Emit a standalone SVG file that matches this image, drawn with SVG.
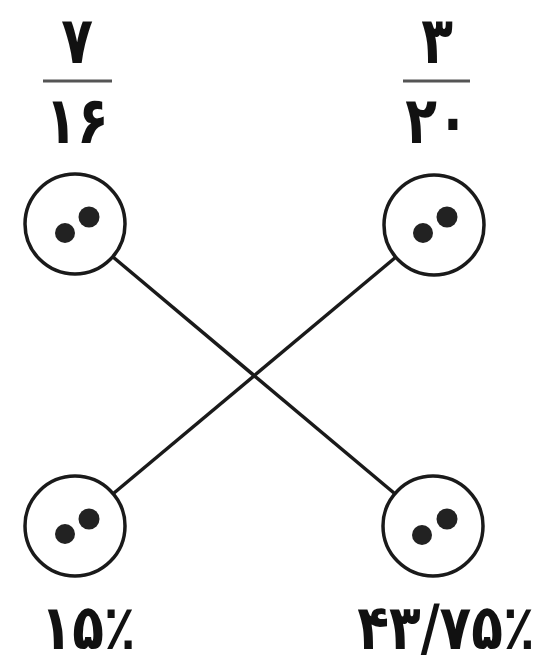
<svg xmlns="http://www.w3.org/2000/svg" width="539" height="664" viewBox="0 0 539 664">
<style>
.num{font-family:"DejaVu Sans","Noto Sans",sans-serif;font-weight:bold;font-size:52px;fill:#111;text-anchor:middle}
.bar{stroke:#555;stroke-width:3}
.ring{fill:none;stroke:#1a1a1a;stroke-width:3.5}
.dot{fill:#222}
.conn{stroke:#1a1a1a;stroke-width:3.5;fill:none}
</style>
<rect width="539" height="664" fill="#fff"/>
<g id="connectors">
<line class="conn" x1="113" y1="257" x2="394" y2="493"/>
<line class="conn" x1="396" y1="257" x2="114" y2="493"/>
</g>
<g id="frac-left">
<text class="num" transform="translate(77,63) scale(1,1.26)">۷</text>
<line class="bar" x1="43" y1="81" x2="112" y2="81"/>
<text class="num" transform="translate(77,143) scale(1,1.26)">۱۶</text>
</g>
<g id="frac-right">
<text class="num" transform="translate(437,63) scale(1,1.26)">۳</text>
<line class="bar" x1="403" y1="81" x2="470" y2="81"/>
<text class="num" transform="translate(437,143) scale(1,1.26)">۲۰</text>
</g>
<g id="node-tl">
<circle class="ring" cx="75" cy="224" r="50"/>
<circle class="dot" cx="65" cy="233" r="10"/>
<circle class="dot" cx="89" cy="217" r="10.5"/>
</g>
<g id="node-tr">
<circle class="ring" cx="434" cy="225" r="50"/>
<circle class="dot" cx="423" cy="233" r="10"/>
<circle class="dot" cx="447" cy="217" r="10.5"/>
</g>
<g id="node-bl">
<circle class="ring" cx="75" cy="526" r="50"/>
<circle class="dot" cx="65" cy="534" r="10"/>
<circle class="dot" cx="89" cy="519" r="10.5"/>
</g>
<g id="node-br">
<circle class="ring" cx="433" cy="526" r="50"/>
<circle class="dot" cx="422" cy="535" r="10"/>
<circle class="dot" cx="447" cy="519" r="10.5"/>
</g>
<g id="labels">
<text class="num" transform="translate(88,649) scale(1,1.2)">۱۵٪</text>
<text class="num" transform="translate(446,649) scale(1,1.2)">۴۳/۷۵٪</text>
</g>
</svg>
